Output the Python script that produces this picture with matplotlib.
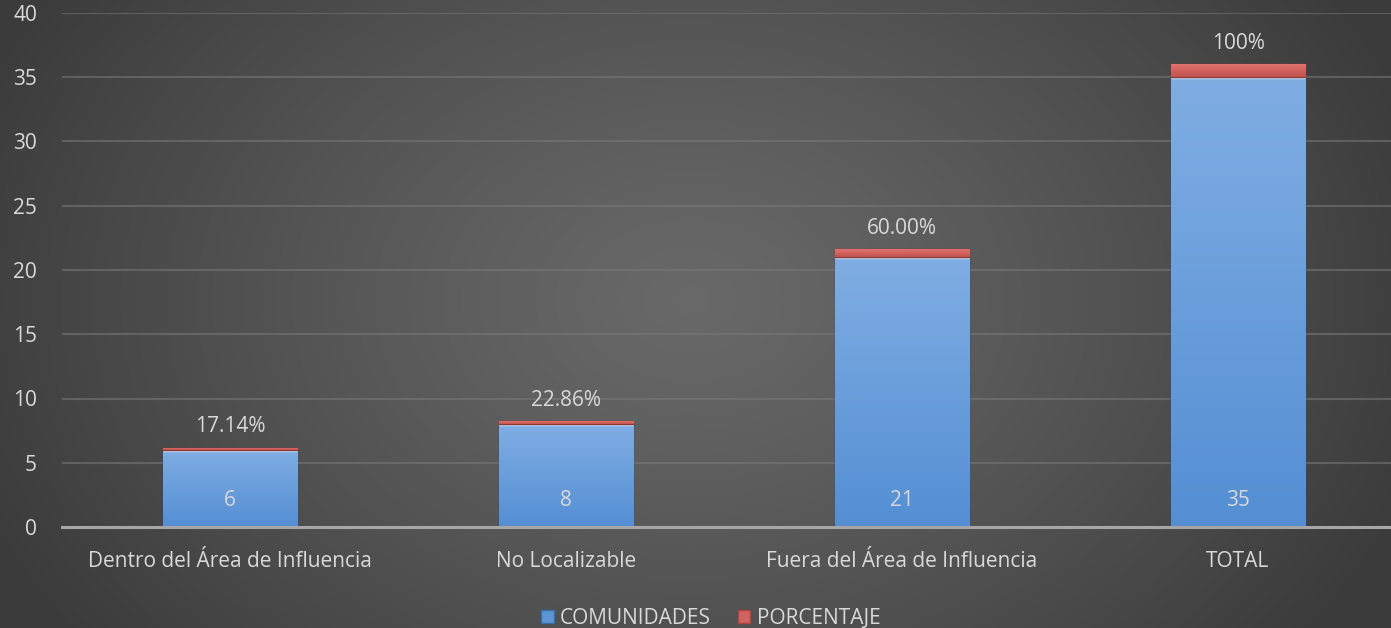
import numpy as np
import matplotlib
matplotlib.use("Agg")
import matplotlib.pyplot as plt
from matplotlib.patches import Rectangle

categories = ["Dentro del Área de Influencia", "No Localizable",
              "Fuera del Área de Influencia", "TOTAL"]
comunidades = [6, 8, 21, 35]
porcentaje = [0.1714, 0.2286, 0.60, 1.00]
pct_labels = ["17.14%", "22.86%", "60.00%", "100%"]
yticks = [0, 5, 10, 15, 20, 25, 30, 35, 40]

plt.rcParams['font.family'] = ['Open Sans', 'DejaVu Sans']
TXT = "#d9d9d9"
FS = 15

W, H = 1391, 628
fig = plt.figure(figsize=(W / 100, H / 100), dpi=100)

# radial gradient background
bg = fig.add_axes([0, 0, 1, 1], zorder=-10)
yy, xx = np.mgrid[0:H, 0:W]
r = np.sqrt(((xx - 690) / 760.0) ** 2 + ((yy - 300) / 560.0) ** 2)
r = np.clip(r, 0, 1)
c = 0.41 - 0.175 * r ** 1.2
img = np.dstack([c, c, c])
bg.imshow(img, aspect='auto', extent=[0, 1, 0, 1], origin='upper')
bg.axis('off')

ax = fig.add_axes([62 / W, 1 - 527 / H, 1344 / W, (527 - 13) / H])
ax.patch.set_alpha(0)
x = np.arange(len(categories))
bw = 0.40

b1 = ax.bar(x, comunidades, width=bw, color="#6fa3dc", zorder=3,
            edgecolor="#2f4f70", linewidth=1.0)
b2 = ax.bar(x, porcentaje, width=bw, bottom=comunidades, color="#d2625f",
            zorder=3.8, edgecolor="#8a3633", linewidth=1.0)


def gradient(bars, top_col, bot_col, z):
    for p in bars:
        x0, y0 = p.get_x(), p.get_y()
        w, h = p.get_width(), p.get_height()
        grad = np.linspace(0, 1, 64)[:, None]
        cols = np.array(top_col)[None, None, :] * (1 - grad[..., None]) + \
            np.array(bot_col)[None, None, :] * grad[..., None]
        cols = np.repeat(cols, 2, axis=1)
        im = ax.imshow(cols, extent=[x0, x0 + w, y0, y0 + h], aspect='auto',
                       origin='upper', zorder=z)
        im.set_clip_path(p)


gradient(b1, (0.50, 0.68, 0.89), (0.33, 0.56, 0.83), 3.5)
gradient(b2, (0.88, 0.45, 0.43), (0.76, 0.32, 0.30), 3.9)

# top highlight on blue bars
for p in b1:
    ax.plot([p.get_x(), p.get_x() + p.get_width()],
            [p.get_y() + p.get_height()] * 2, color="#c2dcf6", lw=2.5,
            zorder=3.6, solid_capstyle='butt')

# labels
for i, v in enumerate(comunidades):
    ax.annotate(str(v), (x[i], 0), xytext=(0, 27), textcoords='offset pixels',
                ha='center', va='center', color=TXT, fontsize=FS, zorder=5)
for i, v in enumerate(comunidades):
    ax.annotate(pct_labels[i], (x[i], v + porcentaje[i]), xytext=(0, 21),
                textcoords='offset pixels', ha='center', va='center',
                color=TXT, fontsize=FS, zorder=5)

ax.set_xlim(-0.5, len(categories) - 0.5)
ax.set_ylim(0, 40)
ax.set_yticks(yticks)
ax.set_xticks(x)
ax.set_xticklabels(categories)
ax.tick_params(axis='both', length=0, colors=TXT, labelsize=FS)
ax.tick_params(axis='x', pad=17)
ax.tick_params(axis='y', pad=18)
ax.yaxis.grid(True, color="#7a7a7a", linewidth=1.5, alpha=0.55, zorder=0)
ax.set_axisbelow(True)
for s in ['top', 'right', 'left']:
    ax.spines[s].set_visible(False)
ax.spines['bottom'].set_color("#a6a6a6")
ax.spines['bottom'].set_linewidth(2.2)
ax.spines['bottom'].set_zorder(6)

handles = [Rectangle((0, 0), 1, 1, facecolor="#5b95d5", edgecolor="#3a6ea8"),
           Rectangle((0, 0), 1, 1, facecolor="#d2625f", edgecolor="#a84541")]
leg = fig.legend(handles, ["COMUNIDADES", "PORCENTAJE"], loc='center',
                 bbox_to_anchor=(0.511, 1 - 618 / H), ncol=2, frameon=False,
                 fontsize=FS, handlelength=0.6, handleheight=0.6,
                 handletextpad=0.3, columnspacing=1.3, labelcolor=TXT)

fig.savefig("out.png", dpi=100)
